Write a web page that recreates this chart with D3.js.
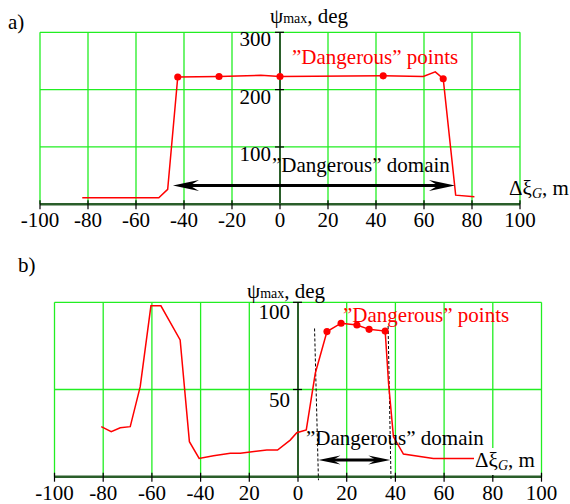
<!DOCTYPE html>
<html>
<head>
<meta charset="utf-8">
<script src="https://cdn.jsdelivr.net/npm/d3@7"></script>
<style>
body { margin: 0; background: #fff; }
text { font-family: 'Liberation Serif', 'Times New Roman', Times, 'DejaVu Serif', serif; }
</style>
</head>
<body>
<svg id="chart" width="570" height="504" font-family="'Liberation Serif', 'DejaVu Serif', serif"></svg>
<script>
// panel a) data
var aX = [-82.4, -50.5, -46.8, -42.6, -25.4, -8, 0, 43, 59.7, 64.7, 68, 73.2, 81];
var aY = [11.5, 11.5, 26, 222, 223, 225, 223, 224, 223, 231, 219, 16, 13];
var aDangerX = [-42.6, -25.4, 0, 43, 68];
var aDangerY = [222, 223, 223, 224, 219];
var aDomain = [-44.6, 72.9, 33];
var aYTicks = [100, 200, 300];
var aXTicks = [-100, -80, -60, -40, -20, 0, 20, 40, 60, 80, 100];
var aXLabels = ["-100", "-80", "-60", "-40", "-20", "0", "20", "40", "60", "80", "100"];

// panel b) data
var bX = [-80.8, -76.7, -73, -68.9, -64.8, -60.4, -56.3, -48.4, -44.6, -40.6, -34.7, -27.8, -23.7, -12.8, -8.4, -3.2, -0.5, 3.4, 7.1, 11.9, 17.7, 24.2, 29.2, 35.8, 37.2, 39.2, 43.3, 55.6, 72.8];
var bY = [28.7, 25.8, 28.1, 28.7, 51.6, 98, 98, 78.4, 20.1, 10.5, 12, 13.4, 13.4, 15.3, 15.3, 21, 25.2, 26.8, 59.3, 83.2, 88, 87, 84.5, 83.5, 53.5, 22.9, 13, 10.5, 10.5];
var bDangerX = [11.9, 17.7, 24.2, 29.2, 35.8];
var bDangerY = [83.2, 88, 87, 84.5, 83.5];
var bDomain = [8.4, 37.9, 9.6];
var bBounds = [[6.8, 85, 8.4, -2], [37, 86.4, 38.2, -2]];
var bYTicks = [50, 100];
var bXTicks = [-100, -80, -60, -40, -20, 0, 20, 40, 60, 80, 100];
var bXLabels = ["-100", "-80", "-60", "-40", "20", "0", "20", "40", "60", "80", "100"];

var svg = d3.select("#chart");
var gridCol = "#22ee22", axisCol = "#2a5e2a";
var FONT = "'Liberation Serif', 'DejaVu Serif', serif";

function arrow(g, xa, xb, y, len, half) {
	g.append("line").attr("x1", xa + len * 0.6).attr("x2", xb - len * 0.6)
		.attr("y1", y).attr("y2", y)
		.attr("stroke", "#000").attr("stroke-width", 3);
	[[xa, 1], [xb, -1]].forEach(function(h) {
		var t = h[0], s = h[1];
		g.append("path")
			.attr("d", "M" + t + "," + y + "L" + (t + s * len) + "," + (y - half) +
				"L" + (t + s * len * 0.65) + "," + y + "L" + (t + s * len) + "," + (y + half) + "Z")
			.attr("fill", "#000");
	});
}

function drawPanel(p) {
	var g = svg.append("g").attr("font-family", FONT);
	var x = d3.scaleLinear().domain([-100, 100]).range(p.xr);
	var y = d3.scaleLinear().domain([0, p.ymax]).range(p.yr);

	// grid
	g.selectAll(".vg").data(p.xTicks).enter().append("line")
		.attr("x1", function(d) { return x(d); }).attr("x2", function(d) { return x(d); })
		.attr("y1", y(0)).attr("y2", y(p.ymax))
		.attr("stroke", gridCol).attr("stroke-width", 1.3);
	g.selectAll(".hg").data(p.yTicks).enter().append("line")
		.attr("x1", x(-100)).attr("x2", x(100))
		.attr("y1", function(d) { return y(d); }).attr("y2", function(d) { return y(d); })
		.attr("stroke", gridCol).attr("stroke-width", 1.3);

	// x axis
	g.append("line").attr("x1", x(-100)).attr("x2", x(100))
		.attr("y1", y(0)).attr("y2", y(0))
		.attr("stroke", axisCol).attr("stroke-width", 2.5);
	g.selectAll(".xt").data(p.xTicks).enter().append("line")
		.attr("x1", function(d) { return x(d); }).attr("x2", function(d) { return x(d); })
		.attr("y1", y(0) - 4).attr("y2", y(0) + 5)
		.attr("stroke", "#000").attr("stroke-width", 1.2);
	g.selectAll(".xl").data(p.xTicks).enter().append("text")
		.attr("x", function(d) { return x(d); }).attr("y", y(0) + 23)
		.attr("text-anchor", "middle").attr("font-size", 21)
		.text(function(d, i) { return p.xLabels[i]; });

	// y axis
	g.append("line").attr("x1", x(0)).attr("x2", x(0))
		.attr("y1", y(0)).attr("y2", y(p.ymax))
		.attr("stroke", axisCol).attr("stroke-width", 2);
	g.selectAll(".yt").data(p.yTicks).enter().append("line")
		.attr("x1", x(0) - 5).attr("x2", x(0) + 4)
		.attr("y1", function(d) { return y(d); }).attr("y2", function(d) { return y(d); })
		.attr("stroke", "#000").attr("stroke-width", 1.2);
	g.selectAll(".yl").data(p.yTicks).enter().append("text")
		.attr("x", x(0) - p.ylDx).attr("y", function(d) { return y(d) + p.ylDy; })
		.attr("text-anchor", "end").attr("font-size", 21)
		.text(function(d) { return d; });

	// dashed bounds
	(p.bounds || []).forEach(function(b) {
		g.append("line").attr("x1", x(b[0])).attr("y1", y(b[1]))
			.attr("x2", x(b[2])).attr("y2", y(b[3]))
			.attr("stroke", "#000").attr("stroke-width", 1).attr("stroke-dasharray", "3,2");
	});

	// curve
	var pts = p.cx.map(function(v, i) { return [v, p.cy[i]]; });
	g.append("path").datum(pts)
		.attr("d", d3.line().x(function(d) { return x(d[0]); }).y(function(d) { return y(d[1]); }))
		.attr("fill", "none").attr("stroke", "#ff0000").attr("stroke-width", 1.5);
	g.selectAll(".mk").data(p.dx).enter().append("path")
		.attr("d", d3.symbol().type(d3.symbolCircle).size(40))
		.attr("transform", function(d, i) { return "translate(" + x(d) + "," + y(p.dy[i]) + ")"; })
		.attr("fill", "#ff0000");

	// domain arrow
	arrow(g, x(p.domain[0]), x(p.domain[1]), y(p.domain[2]), p.arrLen, p.arrHalf);

	// texts
	g.append("text").attr("x", p.ptsPos[0]).attr("y", p.ptsPos[1])
		.attr("font-size", 21).attr("fill", "#ff0000")
		.text("\u201dDangerous\u201d points");
	g.append("text").attr("x", p.domPos[0]).attr("y", p.domPos[1])
		.attr("font-size", 21).attr("fill", "#000")
		.text("\u201dDangerous\u201d domain");

	var yt = g.append("text").attr("x", p.ytPos[0]).attr("y", p.ytPos[1]).attr("font-size", 21);
	yt.append("tspan").text("\u03c8");
	yt.append("tspan").attr("font-size", 14).text("max");
	yt.append("tspan").text(", deg");

	if (p.xtBg) {
		g.append("rect").attr("x", p.xtPos[0] - 1).attr("y", p.xtPos[1] - 19)
			.attr("width", 64).attr("height", 27).attr("fill", "#fff");
	}
	var xt = g.append("text").attr("x", p.xtPos[0]).attr("y", p.xtPos[1]).attr("font-size", 21);
	xt.append("tspan").text("\u0394\u03be");
	xt.append("tspan").attr("font-size", 14).attr("font-style", "italic").attr("dy", 3).text("G");
	xt.append("tspan").attr("dy", -3).text(", m");

	g.append("text").attr("x", p.tag[0]).attr("y", p.tag[1])
		.attr("font-size", 21).text(p.tag[2]);
}

drawPanel({
	xr: [40, 520], yr: [204.3, 32.3], ymax: 300,
	xTicks: aXTicks, xLabels: aXLabels, yTicks: aYTicks, ylDx: 9, ylDy: 14,
	cx: aX, cy: aY, dx: aDangerX, dy: aDangerY,
	domain: aDomain, arrLen: 26, arrHalf: 5.5,
	ptsPos: [292, 64], domPos: [272, 172], ytPos: [270, 23], xtPos: [509, 195],
	tag: [8, 29, "a)"]
});

drawPanel({
	xr: [54.5, 541.5], yr: [476.7, 302.3], ymax: 100,
	xTicks: bXTicks, xLabels: bXLabels, yTicks: bYTicks, ylDx: 8, ylDy: 17,
	cx: bX, cy: bY, dx: bDangerX, dy: bDangerY, bounds: bBounds,
	domain: bDomain, arrLen: 22, arrHalf: 4.5,
	ptsPos: [343, 322], domPos: [306, 445], ytPos: [247, 298], xtPos: [475, 467], xtBg: true,
	tag: [18, 272, "b)"]
});
</script>
</body>
</html>
